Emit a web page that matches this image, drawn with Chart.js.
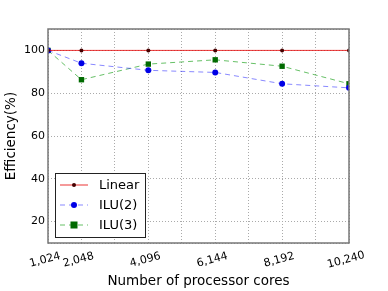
<!DOCTYPE html>
<html>
<head>
<meta charset="utf-8">
<script src="https://cdn.jsdelivr.net/npm/chart.js@4"></script>
<style>
  html, body { margin: 0; padding: 0; background: #fff; }
  #wrap { width: 388px; height: 291px; }
</style>
</head>
<body>
<div id="wrap"><canvas id="effChart" width="388" height="291"></canvas></div>
<script>
const cores = [1024, 2048, 4096, 6144, 8192, 10240];
const linear = [100, 100, 100, 100, 100, 100];
const ilu2 = [100, 94.0, 90.7, 89.7, 84.4, 82.5];
const ilu3 = [100, 86.3, 93.6, 95.6, 92.6, 84.4];
const xTickLabels = ["1,024", "2,048", "4,096", "6,144", "8,192", "10,240"];
const yTicks = [20, 40, 60, 80, 100];

const FONT = "'DejaVu Sans', sans-serif";

function pts(ys) {
  return cores.map((c, i) => ({ x: c, y: ys[i] }));
}

// frame, rotated x labels and the legend box inside the plot
const extras = {
  id: "extras",
  afterDraw(chart) {
    const c = chart.ctx;
    const a = chart.chartArea;
    const xs = chart.scales.x;

    c.save();
    c.strokeStyle = "#777";
    c.lineWidth = 1.5;
    c.strokeRect(a.left, a.top, a.right - a.left, a.bottom - a.top);

    // x labels, rotated about their centre
    c.fillStyle = "#000";
    c.font = "11px " + FONT;
    c.textAlign = "center";
    c.textBaseline = "middle";
    cores.forEach((v, i) => {
      const px = xs.getPixelForValue(v);
      c.save();
      c.translate(px - 3, a.bottom + 17);
      c.rotate(-15 * Math.PI / 180);
      c.fillText(xTickLabels[i], 0, 0);
      c.restore();
    });

    // legend
    const lx = a.left + 7, ly = a.top + 144, lw = 90, lh = 64;
    c.fillStyle = "#fff";
    c.fillRect(lx, ly, lw, lh);
    c.strokeStyle = "#222";
    c.lineWidth = 1;
    c.strokeRect(lx + 0.5, ly + 0.5, lw, lh);
    c.font = "13px " + FONT;
    c.textAlign = "left";
    chart.data.datasets.forEach((ds, i) => {
      const y = ly + 12 + i * 20;
      c.save();
      c.strokeStyle = ds.borderColor;
      c.lineWidth = 1;
      c.setLineDash(ds.borderDash || []);
      c.beginPath();
      c.moveTo(lx + 5, y);
      c.lineTo(lx + 33, y);
      c.stroke();
      c.setLineDash([]);
      c.fillStyle = ds.pointBackgroundColor;
      if (ds.pointStyle === "rect") {
        c.fillRect(lx + 19 - 3.5, y - 3.5, 7, 7);
      } else {
        c.beginPath();
        c.arc(lx + 19, y, ds.pointRadius, 0, Math.PI * 2);
        c.fill();
      }
      c.fillStyle = "#000";
      c.fillText(ds.label, lx + 44, y + 1);
      c.restore();
    });
    c.restore();
  }
};

new Chart(document.getElementById("effChart"), {
  type: "line",
  data: {
    datasets: [
      {
        label: "Linear",
        data: pts(linear),
        borderColor: "rgba(230,0,0,0.8)",
        borderWidth: 1,
        pointStyle: "circle",
        pointRadius: 2,
        pointBackgroundColor: "#400",
        pointBorderWidth: 0
      },
      {
        label: "ILU(2)",
        data: pts(ilu2),
        borderColor: "rgba(40,40,255,0.55)",
        borderWidth: 1,
        borderDash: [5, 4],
        pointStyle: "circle",
        pointRadius: 3,
        pointBackgroundColor: "#0000e6",
        pointBorderWidth: 0
      },
      {
        label: "ILU(3)",
        data: pts(ilu3),
        borderColor: "rgba(0,150,0,0.6)",
        borderWidth: 1,
        borderDash: [5, 4],
        pointStyle: "rect",
        pointRadius: 3.8,
        pointBackgroundColor: "#006a00",
        pointBorderWidth: 0
      }
    ]
  },
  options: {
    responsive: false,
    animation: false,
    layout: { padding: { left: 3, right: 39, top: 29, bottom: 1 } },
    plugins: {
      legend: { display: false },
      tooltip: { enabled: false }
    },
    scales: {
      x: {
        type: "linear",
        min: 1024,
        max: 10240,
        afterBuildTicks(scale) {
          const t = [];
          for (let v = 1024; v <= 10240; v += 1024) t.push({ value: v });
          scale.ticks = t;
        },
        afterFit(scale) { scale.height = 47; },
        ticks: { display: false },
        grid: { color: "#aaa", lineWidth: 1, drawTicks: false },
        border: { display: false, dash: [1, 2] },
        title: {
          display: true,
          text: "Number of processor cores",
          font: { family: FONT, size: 13.5 },
          color: "#000",
          padding: { top: 29, bottom: 0 }
        }
      },
      y: {
        min: 10,
        max: 110,
        afterBuildTicks(scale) {
          scale.ticks = [10].concat(yTicks).concat([110]).map(v => ({ value: v }));
        },
        afterFit(scale) { scale.width = 45; },
        ticks: {
          font: { family: FONT, size: 11 },
          color: "#000",
          padding: 3,
          callback: v => (yTicks.includes(v) ? String(v) : "")
        },
        grid: { color: "#aaa", lineWidth: 1, drawTicks: false },
        border: { display: false, dash: [1, 2] },
        title: {
          display: true,
          text: "Efficiency(%)",
          font: { family: FONT, size: 13.5 },
          color: "#000",
          padding: { top: 0, bottom: 1 }
        }
      }
    }
  },
  plugins: [extras]
});
</script>
</body>
</html>
